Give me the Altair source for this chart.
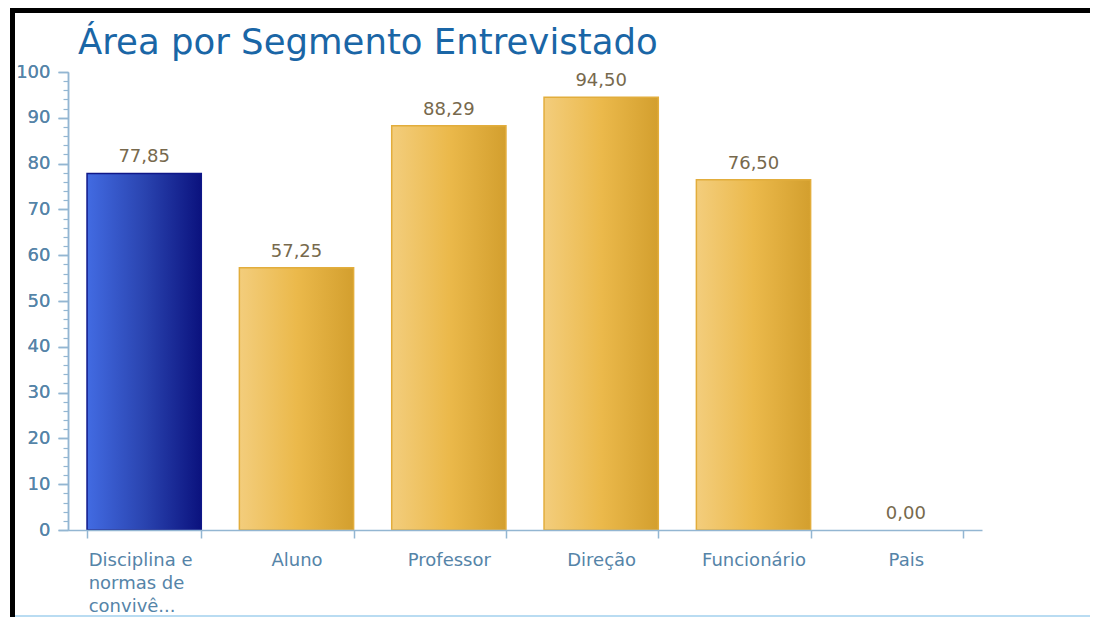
import altair as alt
import pandas as pd

# ---- data ----
categorias = ["Disciplina e normas de convivê...", "Aluno", "Professor", "Direção", "Funcionário", "Pais"]
valores = [77.85, 57.25, 88.29, 94.50, 76.50, 0.00]
destaque = [True, False, False, False, False, False]
linhas_primeira = ["Disciplina e", "normas de", "convivê..."]
ticks_maiores = [0, 10, 20, 30, 40, 50, 60, 70, 80, 90, 100]
ticks_menores = [2, 4, 6, 8, 12, 14, 16, 18, 22, 24, 26, 28, 32, 34, 36, 38, 42, 44, 46, 48,
                 52, 54, 56, 58, 62, 64, 66, 68, 72, 74, 76, 78, 82, 84, 86, 88, 92, 94, 96, 98]
titulo = "Área por Segmento Entrevistado"

df = pd.DataFrame({"segmento": categorias, "valor": valores, "destaque": destaque})

FONT = "DejaVu Sans"
AXIS_LINE = "#93b6d2"
AXIS_TEXT = "#5584a8"

primeira = categorias[0]
linhas_js = "[" + ", ".join("'" + s + "'" for s in linhas_primeira) + "]"
teste_primeira = "datum.value == '" + primeira + "'"

x_enc = alt.X(
    "segmento:N",
    sort=categorias,
    scale=alt.Scale(domain=categorias, paddingInner=0.25, paddingOuter=0.125),
    axis=alt.Axis(
        title=None,
        labelAngle=0,
        tickBand="extent",
        tickSize=8,
        tickColor=AXIS_LINE,
        tickWidth=1.5,
        domainColor=AXIS_LINE,
        domainWidth=1.5,
        labelFont=FONT,
        labelFontSize=18,
        labelColor=AXIS_TEXT,
        labelPadding=13,
        labelLineHeight=23,
        labelLimit=0,
        labelExpr=f"datum.value == '{primeira}' ? {linhas_js} : datum.label",
        labelAlign={"condition": {"test": teste_primeira, "value": "left"}, "value": "center"},
        labelOffset={"condition": {"test": teste_primeira, "value": -56}, "value": 0},
        zindex=1,
    ),
)

y_scale = alt.Scale(domain=[0, 100], nice=False)

y_major = alt.Y(
    "valor:Q",
    scale=y_scale,
    axis=alt.Axis(
        title=None,
        values=ticks_maiores,
        grid=False,
        tickSize=10,
        tickColor=AXIS_LINE,
        tickWidth=1.5,
        domainColor=AXIS_LINE,
        domainWidth=1.5,
        labelFont=FONT,
        labelFontSize=18,
        labelColor=AXIS_TEXT,
        labelPadding=8,
        orient="left",
        zindex=1,
    ),
)

y_minor = alt.Y(
    "valor:Q",
    scale=y_scale,
    axis=alt.Axis(
        title=None,
        values=ticks_menores,
        grid=False,
        labels=False,
        domain=False,
        tickSize=5,
        tickColor=AXIS_LINE,
        tickWidth=1.2,
        orient="left",
        zindex=1,
    ),
)

azul = alt.Gradient(
    gradient="linear", x1=0, x2=1, y1=0, y2=0,
    stops=[alt.GradientStop(offset=0, color="#426be2"),
           alt.GradientStop(offset=0.5, color="#2a44b0"),
           alt.GradientStop(offset=1, color="#0b127e")],
)
ouro = alt.Gradient(
    gradient="linear", x1=0, x2=1, y1=0, y2=0,
    stops=[alt.GradientStop(offset=0, color="#f3cd7c"),
           alt.GradientStop(offset=0.5, color="#ebb94b"),
           alt.GradientStop(offset=1, color="#d39f2e")],
)

base = alt.Chart(df)

barras_azuis = base.transform_filter("datum.destaque").mark_bar(
    fill=azul, stroke="#0f1788", strokeWidth=1.5
).encode(x=x_enc, y=y_major)

barras_ouro = base.transform_filter("!datum.destaque && datum.valor > 0").mark_bar(
    fill=ouro, stroke="#e2ad3c", strokeWidth=1.5
).encode(x=x_enc, y=y_major)

rotulos = base.transform_calculate(
    rotulo="replace(format(datum.valor, '.2f'), '.', ',')"
).mark_text(
    baseline="alphabetic", dy=-11, font=FONT, fontSize=18, color="#77694d"
).encode(x=x_enc, y=y_minor, text="rotulo:N")

moldura_df = pd.DataFrame({"k": [0]})
borda_esq = alt.Chart(moldura_df).mark_rule(color="black", strokeWidth=5).encode(
    x=alt.value(-55.5), y=alt.value(-64), y2=alt.value(560)
)
borda_topo = alt.Chart(moldura_df).mark_rule(color="black", strokeWidth=5).encode(
    x=alt.value(-58), x2=alt.value(1040), y=alt.value(-61.5)
)
linha_base = alt.Chart(moldura_df).mark_rule(color="#b9dcf2", strokeWidth=2).encode(
    x=alt.value(-53), x2=alt.value(1040), y=alt.value(544)
)

chart = alt.layer(
    barras_azuis, barras_ouro, rotulos, borda_esq, borda_topo, linha_base
).resolve_axis(y="independent").properties(
    width=914,
    height=458,
    autosize=alt.AutoSizeParams(type="none"),
    padding={"left": 60, "top": 64, "right": 108, "bottom": 87},
    title=alt.Title(
        titulo, anchor="start", frame="group", dx=10, fontSize=35.5, font=FONT,
        fontWeight="normal", color="#1a66a6", baseline="alphabetic", offset=-84,
    ),
).configure_view(stroke="transparent", strokeWidth=0)

chart.save("out.html", embed_options={"renderer": "svg", "actions": False})
